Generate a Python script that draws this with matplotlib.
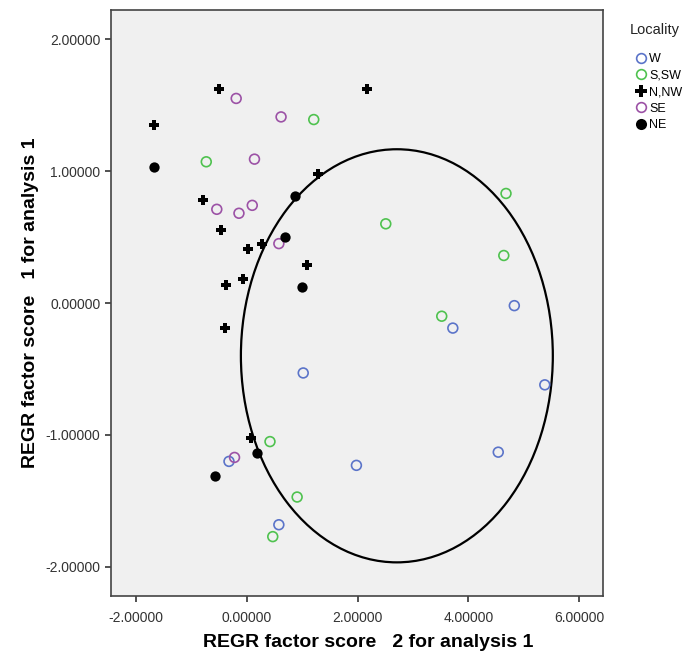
import matplotlib
matplotlib.use("Agg")
import matplotlib.pyplot as plt
from matplotlib.patches import Ellipse
from matplotlib.lines import Line2D

plt.rcParams['font.family'] = ['Liberation Sans', 'DejaVu Sans']

# factor scores: (score 2, score 1)
w_x = [4.83, 3.72, 5.38, 1.02, 1.98, 4.54, -0.32, 0.58]
w_y = [-0.02, -0.19, -0.62, -0.53, -1.23, -1.13, -1.20, -1.68]

ssw_x = [1.21, -0.73, 2.51, 4.68, 4.64, 3.52, 0.42, 0.91, 0.47]
ssw_y = [1.39, 1.07, 0.60, 0.83, 0.36, -0.10, -1.05, -1.47, -1.77]

nnw_x = [-0.50, 2.17, -1.67, -0.79, 1.29, -0.46, 0.02, 0.28, 1.09, -0.06, -0.38, -0.39, 0.08]
nnw_y = [1.62, 1.62, 1.35, 0.78, 0.98, 0.55, 0.41, 0.45, 0.29, 0.18, 0.14, -0.19, -1.02]

se_x = [-0.19, 0.62, 0.14, -0.54, -0.14, 0.10, 0.58, -0.22]
se_y = [1.55, 1.41, 1.09, 0.71, 0.68, 0.74, 0.45, -1.17]

ne_x = [-1.67, 0.88, 0.70, 1.00, 0.18, -0.57]
ne_y = [1.03, 0.81, 0.50, 0.12, -1.14, -1.31]

# ellipse drawn round the W / S,SW group
ell_center = (2.71, -0.40)
ell_width = 5.63
ell_height = 3.13

x_ticks = [-2, 0, 2, 4, 6]
y_ticks = [-2, -1, 0, 1, 2]

fig = plt.figure(figsize=(6.91, 6.58), dpi=100)
ax = fig.add_axes([0.1606, 0.0942, 0.712, 0.8906])
ax.set_facecolor('#f0f0f0')

ax.scatter(w_x, w_y, s=50, facecolors='none', edgecolors='#5b74c9', linewidths=1.2, zorder=3)
ax.scatter(ssw_x, ssw_y, s=50, facecolors='none', edgecolors='#4fc24f', linewidths=1.2, zorder=3)
ax.scatter(nnw_x, nnw_y, s=55, marker='P', color='black', linewidths=0, zorder=3)
ax.scatter(se_x, se_y, s=50, facecolors='none', edgecolors='#9c52a6', linewidths=1.2, zorder=3)
ax.scatter(ne_x, ne_y, s=55, color='black', linewidths=0, zorder=3)

ax.add_patch(Ellipse(ell_center, ell_width, ell_height, fill=False,
                     edgecolor='black', linewidth=1.6, zorder=2))

ax.set_xlim(-2.45, 6.43)
ax.set_ylim(-2.22, 2.22)
ax.set_xticks(x_ticks)
ax.set_yticks(y_ticks)
ax.set_xticklabels(['%.5f' % v for v in x_ticks])
ax.set_yticklabels(['%.5f' % v for v in y_ticks])
ax.tick_params(direction='out', length=4, width=1.2, colors='#333333', labelsize=10)
ax.tick_params(axis='x', pad=6.5)
for sp in ax.spines.values():
    sp.set_color('#444444')
    sp.set_linewidth(1.2)

ax.set_xlabel('REGR factor score   2 for analysis 1', fontsize=14, fontweight='bold', va='center')
ax.set_ylabel('REGR factor score   1 for analysis 1', fontsize=14, fontweight='bold', va='center')
ax.xaxis.set_label_coords(0.523, -0.080)
ax.yaxis.set_label_coords(-0.1626, 0.501)

fig.text(0.911, 0.954, 'Locality', fontsize=10.5, va='center', ha='left', color='#222222')
handles = [
    Line2D([], [], ls='none', marker='o', mfc='none', mec='#5b74c9', ms=7, mew=1.2),
    Line2D([], [], ls='none', marker='o', mfc='none', mec='#4fc24f', ms=7, mew=1.2),
    Line2D([], [], ls='none', marker='P', color='black', ms=8, mew=0),
    Line2D([], [], ls='none', marker='o', mfc='none', mec='#9c52a6', ms=7, mew=1.2),
    Line2D([], [], ls='none', marker='o', color='black', ms=8, mew=0),
]
fig.legend(handles, ['W', 'S,SW', 'N,NW', 'SE', 'NE'],
           loc='upper left', bbox_to_anchor=(0.912, 0.929), frameon=False,
           fontsize=9, handlelength=0.8, handletextpad=0.2,
           labelspacing=0.37, borderpad=0)

fig.savefig('out.png', dpi=100)
